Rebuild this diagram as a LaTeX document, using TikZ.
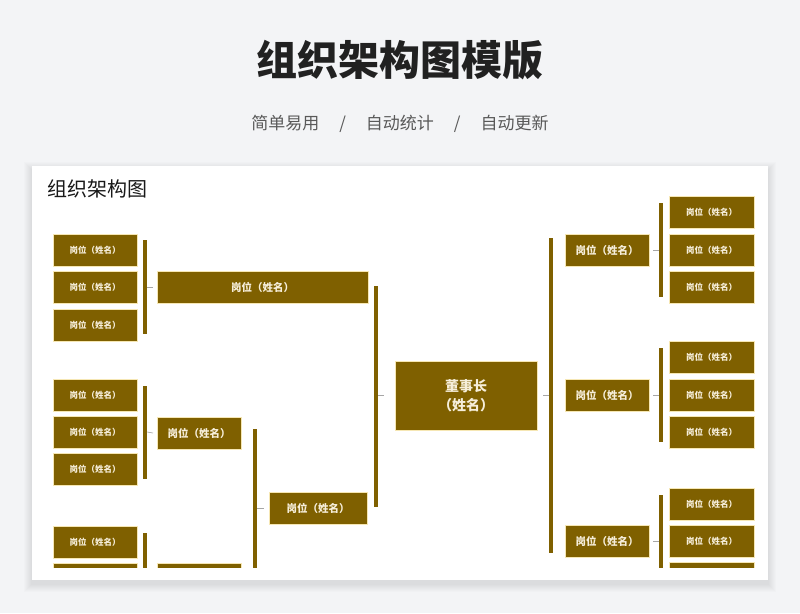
\documentclass[tikz,border=0pt]{standalone}
\usepackage{fontspec}
\setmainfont{Noto Sans CJK SC}
\usepackage{tikz}
\usetikzlibrary{calc, positioning}
\definecolor{bgc}{HTML}{F3F4F6}
\definecolor{boxc}{HTML}{7F6000}
\definecolor{edgec}{HTML}{F6E7B4}
\definecolor{txtc}{HTML}{F6EEDA}

\tikzset{
  post/.style={fill=boxc, draw=edgec, line width=0.8pt, text=txtc, inner sep=0pt, outer sep=0pt,
    minimum height=32pt, minimum width=84pt, font=\fontsize{8.5}{10}\selectfont\bfseries},
  midpost/.style={post, font=\fontsize{10.5}{12}\selectfont\bfseries},
  bar/.style={draw=boxc, line width=4pt},
  tick/.style={draw=gray!70, line width=0.6pt},
}

\begin{document}
\begin{tikzpicture}[x=1pt, y=-1pt]
  \fill[bgc] (0,0) rectangle (800,613);
  \node[text=black!87] (title) at (400,60) {\fontsize{41}{48}\selectfont\bfseries 组织架构图模版};
  \node[text=black!65] (sub) at (400,124) {\fontsize{17}{20}\selectfont 简单易用\hspace{20pt}/\hspace{20pt}自动统计\hspace{20pt}/\hspace{20pt}自动更新};
  % card
  \foreach \i in {1,...,8}
    \fill[black, opacity=0.01] (32-\i,166-\i+4) rectangle (768+\i,580+\i+4);
  \fill[white] (32,166) rectangle (768,580);
  \node[anchor=west, text=black!90] (cardtitle) at (44,189) {\fontsize{20}{24}\selectfont 组织架构图};

  \begin{scope}
    \clip (32,166) rectangle (768,567);
    % left side
    \foreach \y [count=\i] in {250,287,325,395,432,469,542,579}
      \node[post] (ll\i) at (95,\y) {岗位（姓名）};
    \node[midpost, minimum width=211pt] (ma) at (262.5,287) {岗位（姓名）};
    \node[midpost] (mb) at (199,433) {岗位（姓名）};
    \node[midpost] (mc) at (199,579) {岗位（姓名）};
    \node[midpost, minimum width=98pt] (md) at (318,508) {岗位（姓名）};
    % chairman
    \node[midpost, minimum width=142pt, minimum height=69pt, align=center,
      font=\fontsize{14}{19}\selectfont\bfseries] (boss) at (466,395.5) {董事长\\（姓名）};
    % right side
    \foreach \y [count=\i] in {250,395,541}
      \node[midpost] (rm\i) at (607,\y) {岗位（姓名）};
    \foreach \y [count=\i] in {212,250,287,357,395,432,504,541,578}
      \node[post, minimum width=85pt] (rl\i) at (711.5,\y) {岗位（姓名）};

    % left brackets
    \draw[bar] ($(ll1.east)+(8,-10)$) -- ($(ll3.east)+(8,9)$);
    \draw[tick] ($(ll2.east)+(10,0)$) -- ($(ma.west)+(-4,0)$);
    \draw[bar] ($(ll4.east)+(8,-9)$) -- ($(ll6.east)+(8,10)$);
    \draw[tick] ($(ll5.east)+(10,0)$) -- ($(mb.west)+(-4,0)$);
    \draw[bar] ($(ll7.east)+(8,-9)$) -- ($(ll8.east)+(8,10)$);
    \draw[bar] ($(mb.east)+(14,-4)$) -- ($(mc.east)+(14,10)$);
    \draw[tick] ($(md.west)+(-12,0)$) -- ($(md.west)+(-5,0)$);
    \draw[bar] ($(ma.east)+(7.5,-1)$) -- ($(md.east)+(8.5,-1)$);
    \draw[tick] ($(boss.west)+(-17,0)$) -- ($(boss.west)+(-11,0)$);
    % right brackets
    \draw[tick] ($(boss.east)+(6,0)$) -- ($(boss.east)+(12,0)$);
    \draw[bar] ($(rm1.west)+(-14,-12)$) -- ($(rm3.west)+(-14,12)$);
    \foreach \a/\b/\c in {1/1/3, 2/4/6, 3/7/9} {
      \draw[tick] ($(rm\a.east)+(4,0)$) -- ($(rm\a.east)+(10,0)$);
      \draw[bar] ($(rl\b.west)+(-8,-9)$) -- ($(rl\c.west)+(-8,10)$);
    }
  \end{scope}
\end{tikzpicture}
\end{document}
